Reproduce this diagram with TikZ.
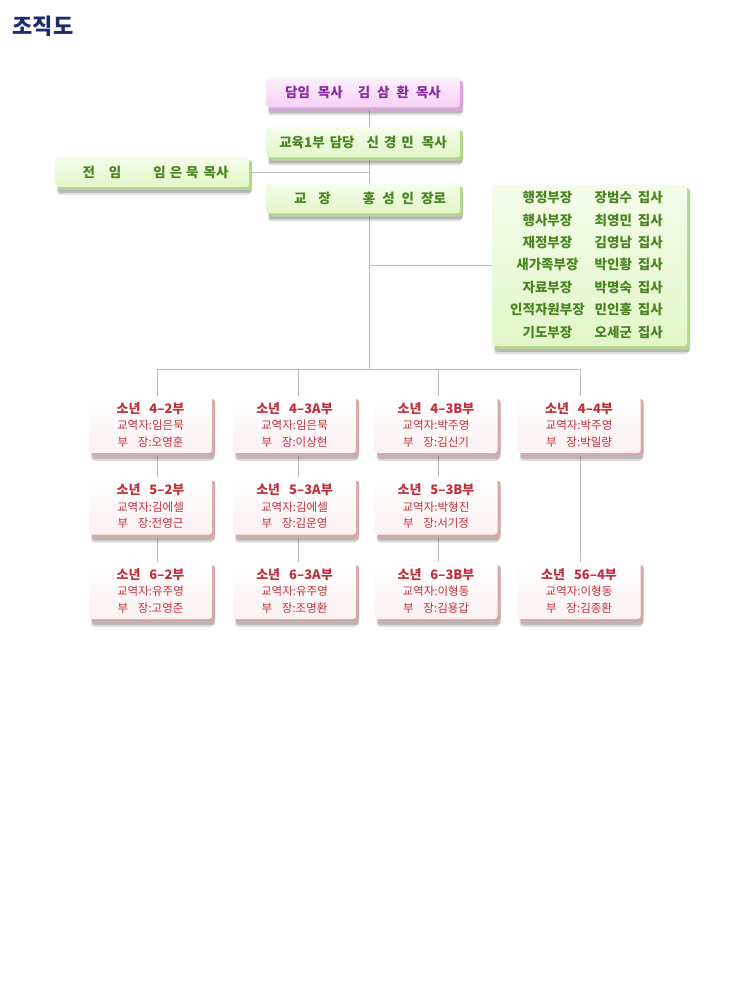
\documentclass[tikz,border=0pt]{standalone}
\usepackage{fontspec}
\setmainfont{Noto Sans CJK KR}
\usetikzlibrary{backgrounds}
\definecolor{titlec}{HTML}{1D2A6E}
\definecolor{linec}{HTML}{BDBDBD}
\definecolor{redtext}{HTML}{C0303C}
\definecolor{redbevel}{HTML}{D9A6AA}
\definecolor{redface}{HTML}{FBF1F1}
\definecolor{greentext}{HTML}{4A8522}
\definecolor{greentop}{HTML}{F5FDEA}
\definecolor{greenbot}{HTML}{E1F6C8}
\definecolor{greenbevel}{HTML}{B5D68E}
\definecolor{pinktext}{HTML}{8A2CA0}
\definecolor{pinktop}{HTML}{FDF0FD}
\definecolor{pinkbot}{HTML}{F5D0F5}
\definecolor{pinkbevel}{HTML}{D9A3DC}
\newcommand\grptext[3]{{\fontsize{13}{16.5}\selectfont\bfseries 소년\hspace{9pt}#1}\\교역자:#2\\\makebox[2.7em][s]{부\hfill 장}:#3}
\begin{document}
\begin{tikzpicture}[x=1pt,y=-1pt,
  shadowbox/.style n args={3}{rounded corners=3pt, inner sep=0pt, draw=none,
    preaction={fill=black, opacity=0.12, transform canvas={xshift=2pt,yshift=-8pt}},
    preaction={fill=black, opacity=0.18, transform canvas={xshift=3pt,yshift=-6pt}},
    preaction={fill=#3, transform canvas={xshift=3pt,yshift=-3pt}},
    top color=#1, bottom color=#2},
  pinkbox/.style={shadowbox={pinktop}{pinkbot}{pinkbevel}, text=pinktext,
    font=\fontsize{13.5}{16}\selectfont\bfseries, minimum width=194pt, minimum height=30pt},
  greenbox/.style={shadowbox={greentop}{greenbot}{greenbevel}, text=greentext,
    font=\fontsize{13.5}{16}\selectfont\bfseries, minimum width=194pt, minimum height=30pt},
  redbox/.style={shadowbox={white}{redface}{redbevel}, text=redtext, align=center,
    font=\fontsize{11.5}{16.5}\selectfont, minimum width=123pt, minimum height=57pt},
  conn/.style={draw=linec, line width=0.8pt}
]
\useasboundingbox (0,0) rectangle (730,1000);

\node[anchor=west, text=titlec, font=\fontsize{22}{22}\selectfont\bfseries] (title) at (9,26) {조직도};

\node[pinkbox] (pastor) at (363,92.5)
  {담임\hspace{8pt}목사\hspace{15pt}김\hspace{7pt}삼\hspace{7pt}환\hspace{7pt}목사};
\node[greenbox] (edu) at (363,142.5)
  {교육1부\hspace{5pt}담당\hspace{12pt}신\hspace{5pt}경\hspace{5pt}민\hspace{8pt}목사};
\node[greenbox] (left) at (152,172)
  {\hspace*{7pt}전\hspace{14pt}임\hspace{32pt}임\hspace{4pt}은\hspace{4pt}묵\hspace{5pt}목사};
\node[greenbox] (princ) at (363,198.5)
  {\hspace*{14pt}교\hspace{12pt}장\hspace{32pt}홍\hspace{7pt}성\hspace{7pt}인\hspace{7pt}장로};
\node[greenbox, minimum width=195pt, minimum height=161pt,
  font=\fontsize{13.5}{22.4}\selectfont\bfseries] (dept) at (589.5,265.5)
  {\begin{tabular}{@{}c@{\hspace{10pt}}l@{}}
   행정부장 & 장범수\hspace{6pt}집사\\
   행사부장 & 최영민\hspace{6pt}집사\\
   재정부장 & 김영남\hspace{6pt}집사\\
   새가족부장 & 박인황\hspace{6pt}집사\\
   자료부장 & 박명숙\hspace{6pt}집사\\
   인적자원부장 & 민인홍\hspace{6pt}집사\\
   기도부장 & 오세군\hspace{6pt}집사
   \end{tabular}\hspace*{6pt}};

\node[redbox] (r1c1) at (150.5,424.5) {\grptext{4–2부}{임은묵}{오영훈}};
\node[redbox] (r1c2) at (294.5,424.5) {\grptext{4–3A부}{임은묵}{이상현}};
\node[redbox] (r1c3) at (436,424.5) {\grptext{4–3B부}{박주영}{김신기}};
\node[redbox] (r1c4) at (579,424.5) {\grptext{4–4부}{박주영}{박일량}};
\node[redbox] (r2c1) at (150.5,506) {\grptext{5–2부}{김에셀}{전영근}};
\node[redbox] (r2c2) at (294.5,506) {\grptext{5–3A부}{김에셀}{김운영}};
\node[redbox] (r2c3) at (436,506) {\grptext{5–3B부}{박형진}{서기정}};
\node[redbox] (r3c1) at (150.5,590.5) {\grptext{6–2부}{유주영}{고영준}};
\node[redbox] (r3c2) at (294.5,590.5) {\grptext{6–3A부}{유주영}{조명환}};
\node[redbox] (r3c3) at (436,590.5) {\grptext{6–3B부}{이형동}{김용갑}};
\node[redbox] (r3c4) at (579,590.5) {\grptext{56–4부}{이형동}{김종환}};

\coordinate (bus) at (369,369);
\coordinate (d1) at (157,369);
\coordinate (d2) at (298,369);
\coordinate (d3) at (438,369);
\coordinate (d4) at (580,369);

\begin{pgfonlayer}{background}
\draw[conn] (pastor.south -| bus) -- (bus);
\draw[conn] (left.east) -- (left.east -| bus);
\draw[conn] (dept.west) -- (dept.west -| bus);
\draw[conn] (d1) -- (d4);
\draw[conn] (d1) -- (d1 |- r3c1.north);
\draw[conn] (d2) -- (d2 |- r3c2.north);
\draw[conn] (d3) -- (d3 |- r3c3.north);
\draw[conn] (d4) -- (d4 |- r3c4.north);
\end{pgfonlayer}
\end{tikzpicture}
\end{document}
